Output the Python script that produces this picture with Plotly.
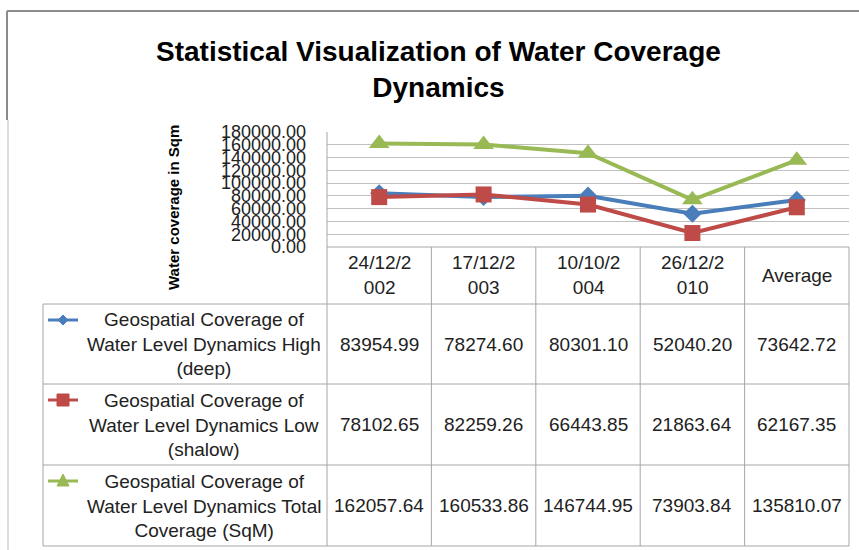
import plotly.graph_objects as go

categories = ["24/12/2002", "17/12/2003", "10/10/2004", "26/12/2010", "Average"]
header_labels = ["24/12/2<br>002", "17/12/2<br>003", "10/10/2<br>004", "26/12/2<br>010", "Average"]
series_names = [
    "Geospatial Coverage of<br>Water Level Dynamics High<br>(deep)",
    "Geospatial Coverage of<br>Water Level Dynamics Low<br>(shalow)",
    "Geospatial Coverage of<br>Water Level Dynamics Total<br>Coverage (SqM)",
]
high_deep = [83954.99, 78274.60, 80301.10, 52040.20, 73642.72]
low_shallow = [78102.65, 82259.26, 66443.85, 21863.64, 62167.35]
total_cov = [162057.64, 160533.86, 146744.95, 73903.84, 135810.07]
y_ticks = [0, 20000, 40000, 60000, 80000, 100000, 120000, 140000, 160000, 180000]

W, H = 859, 550
def fx(px):
    return px / W
def fy(py):
    return 1 - py / H

colors = ["#4A7EBB", "#BE4B48", "#98B954"]
symbols = ["diamond", "square", "triangle-up"]
msizes = [14, 16, 18]
series = [high_deep, low_shallow, total_cov]

PL, PR, PT, PB = 327, 849, 132, 247
col_edges = [PL + i * (PR - PL) / 5 for i in range(6)]
col_centers = [(col_edges[i] + col_edges[i + 1]) / 2 for i in range(5)]
row_edges = [304, 384, 465, 546]

fig = go.Figure()
for vals, c, s, ms in zip(series, colors, symbols, msizes):
    fig.add_trace(go.Scatter(
        x=categories, y=vals, mode="lines+markers",
        line=dict(color=c, width=4),
        marker=dict(symbol=s, size=ms, color=c),
        cliponaxis=False, showlegend=False,
    ))

TXT = "Liberation Sans, Arial, sans-serif"
GRID = "#BFBFBF"
LINEC = "#A6A6A6"

fig.update_layout(
    width=W, height=H, margin=dict(l=0, r=0, t=0, b=0, pad=0, autoexpand=False),
    paper_bgcolor="white", plot_bgcolor="white",
    showlegend=False,
    xaxis=dict(domain=[fx(PL), fx(PR)], range=[-0.5, 4.5], showticklabels=False, automargin=False,
               showgrid=False, zeroline=False, showline=False, ticks=""),
    yaxis=dict(domain=[fy(PB), fy(PT)], range=[0, 180000], tickvals=y_ticks, automargin=False,
               tickformat=".2f", showgrid=True, gridcolor=GRID, gridwidth=1,
               zeroline=False, showline=False, ticks="", ticklabelstandoff=20,
               tickfont=dict(family=TXT, size=18, color="#222222")),
)

shapes = []
def hline(x0, x1, y, color=LINEC, w=1):
    shapes.append(dict(type="line", xref="paper", yref="paper", x0=fx(x0), x1=fx(x1),
                       y0=fy(y), y1=fy(y), line=dict(color=color, width=w)))
def vline(x, y0, y1, color=LINEC, w=1):
    shapes.append(dict(type="line", xref="paper", yref="paper", x0=fx(x), x1=fx(x),
                       y0=fy(y0), y1=fy(y1), line=dict(color=color, width=w)))

# outer frame
hline(7, 859, 11, color="#8C8C8C", w=2)
vline(7, 11, 120, color="#8C8C8C", w=2)
vline(8, 120, 550, color="#BDBDBD", w=1)
# table lines
hline(PL, PR, PB)
for r in row_edges:
    hline(43, PR, r)
vline(43, row_edges[0], row_edges[-1])
vline(PL, PT, row_edges[-1])
for e in col_edges[1:]:
    vline(e, PB, row_edges[-1])

annotations = []
annotations.append(dict(text="<b>Statistical Visualization of Water Coverage<br>Dynamics</b>",
                        x=fx(438), y=fy(69), xref="paper", yref="paper", showarrow=False,
                        font=dict(family=TXT, size=28, color="black"), xanchor="center", yanchor="middle"))
annotations.append(dict(text="<b>Water coverage in Sqm</b>", x=fx(173), y=fy(208), xref="paper", yref="paper",
                        showarrow=False, textangle=-90, font=dict(family=TXT, size=15, color="black"),
                        xanchor="center", yanchor="middle"))
for cx, lab in zip(col_centers, header_labels):
    annotations.append(dict(text=lab, x=fx(cx), y=fy(275), xref="paper", yref="paper", showarrow=False,
                            font=dict(family=TXT, size=19, color="#222222"), xanchor="center", yanchor="middle"))
for i, (vals, name, c, s) in enumerate(zip(series, series_names, colors, symbols)):
    top, bot = row_edges[i], row_edges[i + 1]
    mid = (top + bot) / 2
    annotations.append(dict(text=name, x=fx(204), y=fy(mid), xref="paper", yref="paper", showarrow=False,
                            font=dict(family=TXT, size=19, color="#222222"), xanchor="center", yanchor="middle"))
    for cx, v in zip(col_centers, vals):
        annotations.append(dict(text=f"{v:.2f}", x=fx(cx), y=fy(mid), xref="paper", yref="paper", showarrow=False,
                                font=dict(family=TXT, size=19, color="#222222"), xanchor="center", yanchor="middle"))
    ky = top + 16
    hline(48, 78, ky, color=c, w=3)
    kx = 63
    if s == "diamond":
        d = 5
        path = f"M {fx(kx-d)},{fy(ky)} L {fx(kx)},{fy(ky-d)} L {fx(kx+d)},{fy(ky)} L {fx(kx)},{fy(ky+d)} Z"
        shapes.append(dict(type="path", xref="paper", yref="paper", path=path, fillcolor=c, line=dict(color=c, width=1)))
    elif s == "square":
        d = 6
        shapes.append(dict(type="rect", xref="paper", yref="paper", x0=fx(kx-d), x1=fx(kx+d), y0=fy(ky-d), y1=fy(ky+d),
                           fillcolor=c, line=dict(color=c, width=1)))
    else:
        d = 6
        path = f"M {fx(kx-d)},{fy(ky+d-1)} L {fx(kx)},{fy(ky-d-1)} L {fx(kx+d)},{fy(ky+d-1)} Z"
        shapes.append(dict(type="path", xref="paper", yref="paper", path=path, fillcolor=c, line=dict(color=c, width=1)))

fig.update_layout(shapes=shapes, annotations=annotations)
fig.write_html("out.html", config={"displayModeBar": False},
               post_script="document.body.style.margin='0';")
